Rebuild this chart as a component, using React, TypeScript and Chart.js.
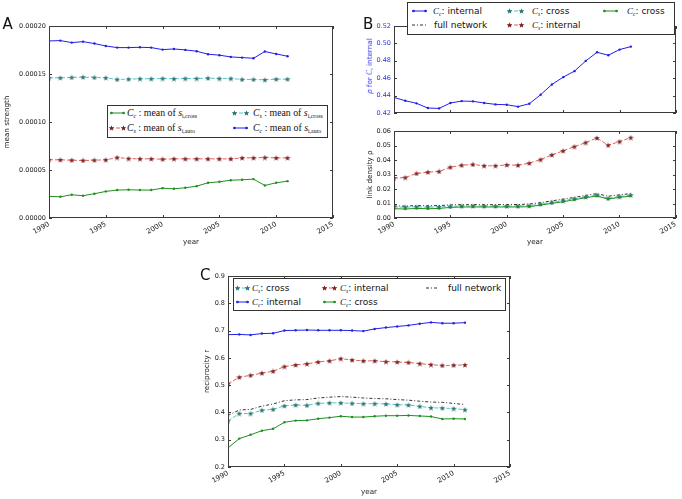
import React, { useEffect, useRef } from "react";
import { Chart, registerables } from "chart.js";
Chart.register(...registerables);

const W = 682;
const H = 499;
const SANS = "'DejaVu Sans', sans-serif";
const SERIF = "'Liberation Serif', 'DejaVu Serif', serif";

// ---------- data ----------
const years = [1990, 1991, 1992, 1993, 1994, 1995, 1996, 1997, 1998, 1999, 2000, 2001, 2002, 2003, 2004, 2005, 2006, 2007, 2008, 2009, 2010, 2011];

// Panel A: mean strength
const strengthCcAuto = [0.0001844, 0.0001848, 0.0001827, 0.0001837, 0.0001817, 0.0001792, 0.0001775, 0.0001775, 0.0001778, 0.0001775, 0.0001754, 0.0001761, 0.0001751, 0.0001737, 0.0001706, 0.0001696, 0.0001678, 0.0001671, 0.0001664, 0.0001734, 0.0001709, 0.0001685];
const strengthCsCross = [0.000146, 0.000146, 0.0001464, 0.0001467, 0.0001464, 0.000146, 0.0001443, 0.0001446, 0.000145, 0.000145, 0.0001453, 0.000145, 0.0001453, 0.0001453, 0.0001457, 0.0001453, 0.0001453, 0.0001443, 0.0001443, 0.0001439, 0.0001446, 0.0001446];
const strengthCsAuto = [0.0000606, 0.0000606, 0.0000602, 0.0000599, 0.0000602, 0.0000606, 0.000063, 0.0000619, 0.0000616, 0.0000616, 0.0000612, 0.0000616, 0.0000616, 0.0000616, 0.0000616, 0.0000616, 0.0000616, 0.0000626, 0.0000626, 0.000063, 0.0000626, 0.0000626];
const strengthCcCross = [0.0000225, 0.0000221, 0.0000242, 0.0000232, 0.0000253, 0.0000277, 0.0000291, 0.0000294, 0.0000291, 0.0000291, 0.0000311, 0.0000304, 0.0000315, 0.0000332, 0.0000367, 0.0000377, 0.0000394, 0.0000398, 0.0000405, 0.0000339, 0.0000367, 0.0000384];

// Panel B (top): link density of C_c internal
const densityCcInternal = [0.4379, 0.4341, 0.4311, 0.4257, 0.4253, 0.4315, 0.4337, 0.4334, 0.4315, 0.4299, 0.4295, 0.4273, 0.4307, 0.441, 0.4528, 0.4612, 0.4681, 0.4799, 0.4898, 0.4864, 0.4929, 0.4963];
// Panel B (bottom)
const densityCsInternal = [0.0275, 0.0279, 0.0307, 0.0316, 0.0321, 0.035, 0.0364, 0.0369, 0.036, 0.036, 0.0366, 0.0364, 0.0378, 0.0403, 0.0435, 0.0463, 0.0492, 0.052, 0.0552, 0.0502, 0.0527, 0.0554];
const densityCcCross = [0.0064, 0.0062, 0.0066, 0.0064, 0.0066, 0.0073, 0.0076, 0.0076, 0.0076, 0.0076, 0.0076, 0.0076, 0.0078, 0.0089, 0.0101, 0.0112, 0.0126, 0.014, 0.0151, 0.0131, 0.0142, 0.0151];
const densityCsCross = [0.0076, 0.0075, 0.0077, 0.0075, 0.0076, 0.008, 0.0082, 0.0083, 0.0082, 0.0082, 0.0082, 0.0082, 0.0085, 0.0096, 0.0108, 0.012, 0.0133, 0.0145, 0.0158, 0.0135, 0.0148, 0.0158];
const densityFull = [0.0083, 0.0082, 0.0085, 0.0084, 0.0086, 0.009, 0.0092, 0.0092, 0.0092, 0.0092, 0.0093, 0.0093, 0.0096, 0.0106, 0.0118, 0.013, 0.0142, 0.0156, 0.0168, 0.015, 0.016, 0.0168];

// Panel C: reciprocity
const recipCcInternal = [0.685, 0.686, 0.684, 0.689, 0.69, 0.7, 0.701, 0.702, 0.701, 0.701, 0.701, 0.7, 0.698, 0.706, 0.711, 0.715, 0.719, 0.725, 0.73, 0.727, 0.727, 0.729];
const recipCsInternal = [0.505, 0.529, 0.536, 0.544, 0.551, 0.568, 0.574, 0.578, 0.585, 0.589, 0.597, 0.592, 0.589, 0.589, 0.586, 0.585, 0.583, 0.579, 0.575, 0.572, 0.573, 0.574];
const recipCsCross = [0.369, 0.396, 0.396, 0.408, 0.411, 0.424, 0.427, 0.426, 0.433, 0.435, 0.435, 0.433, 0.432, 0.432, 0.431, 0.428, 0.427, 0.422, 0.417, 0.416, 0.414, 0.41];
const recipFull = [0.389, 0.409, 0.411, 0.423, 0.431, 0.443, 0.446, 0.447, 0.453, 0.456, 0.458, 0.456, 0.453, 0.451, 0.45, 0.447, 0.445, 0.441, 0.438, 0.437, 0.433, 0.429];
const recipCcCross = [0.27, 0.304, 0.318, 0.333, 0.34, 0.364, 0.37, 0.371, 0.377, 0.381, 0.386, 0.383, 0.383, 0.386, 0.388, 0.388, 0.389, 0.387, 0.385, 0.376, 0.377, 0.376];

const xMin = 1990;
const xMax = 2015;
const xStep = 5;

// ---------- styles ----------
type Style = { line: string; mark: string; dash?: number[]; marker: "dot" | "star" | "none" };
const ST_BLUE: Style = { line: "#2020e8", mark: "#2020e8", marker: "dot" };
const ST_GREEN: Style = { line: "#1f8f1f", mark: "#1f8f1f", marker: "dot" };
const ST_TEAL: Style = { line: "#55c6c6", mark: "#2a7272", dash: [4, 2], marker: "star" };
const ST_RED: Style = { line: "#e06060", mark: "#7a1e1e", dash: [4, 2], marker: "star" };
const ST_FULL: Style = { line: "#333333", mark: "#333333", dash: [3, 2, 1, 2], marker: "none" };

function makeStar(color: string, size: number) {
  const c = document.createElement("canvas");
  c.width = size;
  c.height = size;
  const ctx = c.getContext("2d")!;
  ctx.fillStyle = color;
  ctx.beginPath();
  const cx = size / 2, cy = size / 2 + 0.3, R = size / 2, r = R * 0.42;
  for (let i = 0; i < 10; i++) {
    const a = -Math.PI / 2 + (i * Math.PI) / 5;
    const rad = i % 2 === 0 ? R : r;
    ctx.lineTo(cx + rad * Math.cos(a), cy + rad * Math.sin(a));
  }
  ctx.closePath();
  ctx.fill();
  return c;
}

function series(vals: number[], st: Style) {
  return {
    data: years.map((x, i) => ({ x, y: vals[i] })),
    borderColor: st.line,
    borderWidth: 1,
    borderDash: st.dash || [],
    pointStyle: st.marker === "star" ? makeStar(st.mark, 6) : "circle",
    pointRadius: st.marker === "none" ? 0 : st.marker === "star" ? 3 : 1.2,
    pointBackgroundColor: st.mark,
    pointBorderColor: st.mark,
    pointBorderWidth: 0,
    tension: 0,
    fill: false,
  };
}

const framePlugin = {
  id: "mplFrame",
  afterDraw(chart: any) {
    const { ctx, chartArea } = chart;
    const l = Math.round(chartArea.left), r = Math.round(chartArea.right);
    const t = Math.round(chartArea.top), b = Math.round(chartArea.bottom);
    ctx.save();
    ctx.strokeStyle = "#3a3a3a";
    ctx.lineWidth = 1;
    ctx.strokeRect(l + 0.5, t + 0.5, r - l - 1, b - t - 1);
    const tl = 3;
    ctx.beginPath();
    const xs = chart.scales.x;
    for (const tk of xs.ticks) {
      const px = Math.round(xs.getPixelForValue(tk.value)) + 0.5;
      ctx.moveTo(px, b);
      ctx.lineTo(px, b - tl);
      ctx.moveTo(px, t);
      ctx.lineTo(px, t + tl);
    }
    const ys = chart.scales.y;
    for (const tk of ys.ticks) {
      const py = Math.round(ys.getPixelForValue(tk.value)) + 0.5;
      ctx.moveTo(l, py);
      ctx.lineTo(l + tl, py);
      ctx.moveTo(r, py);
      ctx.lineTo(r - tl, py);
    }
    ctx.stroke();
    ctx.restore();
  },
};

type Area = { l: number; t: number; r: number; b: number };
type PanelProps = {
  area: Area;
  datasets: { vals: number[]; st: Style }[];
  yMin: number;
  yMax: number;
  yStep: number;
  yDec: number;
  yColor?: string;
  yTitle?: string;
  yTitleX?: number;
  xTitleY?: number;
  showXLabels: boolean;
};

const TICK_FONT = 6.5;
const XTICK_FONT = 7;
const TITLE_FONT = 7.2;

function Panel(p: PanelProps) {
  const ref = useRef<HTMLCanvasElement>(null);
  useEffect(() => {
    const lh = TITLE_FONT * 1.2;
    const chart = new Chart(ref.current!, {
      type: "line",
      data: { datasets: p.datasets.map((d) => series(d.vals, d.st)) as any },
      options: {
        animation: false,
        responsive: false,
        devicePixelRatio: 1,
        layout: { padding: { left: 0, top: p.area.t, right: W - p.area.r, bottom: 0 } },
        plugins: { legend: { display: false }, tooltip: { enabled: false } },
        scales: {
          x: {
            type: "linear",
            min: xMin,
            max: xMax,
            afterFit: (s: any) => {
              s.height = H - p.area.b;
            },
            grid: { display: false, drawTicks: false },
            border: { display: false },
            ticks: {
              display: p.showXLabels,
              stepSize: xStep,
              autoSkip: false,
              maxRotation: 30,
              minRotation: 30,
              padding: 2,
              font: { family: SANS, size: XTICK_FONT },
              color: "#222",
              callback: (v: any) => String(v),
            },
            title: p.xTitleY
              ? {
                  display: true,
                  text: "year",
                  font: { family: SANS, size: TITLE_FONT },
                  color: "#222",
                  padding: { top: 0, bottom: H - p.xTitleY - lh / 2 },
                }
              : { display: false },
          },
          y: {
            type: "linear",
            min: p.yMin,
            max: p.yMax,
            afterFit: (s: any) => {
              s.width = p.area.l;
            },
            grid: { display: false, drawTicks: false },
            border: { display: false },
            ticks: {
              stepSize: p.yStep,
              padding: 3,
              font: { family: SANS, size: TICK_FONT },
              color: p.yColor || "#222",
              callback: (v: any) => Number(v).toFixed(p.yDec),
            },
            title: p.yTitle
              ? {
                  display: true,
                  text: p.yTitle,
                  font: { family: SANS, size: TITLE_FONT },
                  color: "#222",
                  padding: { top: (p.yTitleX || 0) - lh / 2, bottom: 0 },
                }
              : { display: false },
          },
        },
      } as any,
      plugins: [framePlugin],
    });
    return () => chart.destroy();
  }, []);
  return <canvas ref={ref} width={W} height={H} style={{ position: "absolute", left: 0, top: 0 }} />;
}

// ---------- legend helpers ----------
function starPts(cx: number, cy: number, R: number) {
  const pts: string[] = [];
  for (let i = 0; i < 10; i++) {
    const a = -Math.PI / 2 + (i * Math.PI) / 5;
    const rad = i % 2 === 0 ? R : R * 0.42;
    pts.push(`${(cx + rad * Math.cos(a)).toFixed(2)},${(cy + rad * Math.sin(a) + 0.3).toFixed(2)}`);
  }
  return pts.join(" ");
}

function Sample({ x, y, w, st }: { x: number; y: number; w: number; st: Style }) {
  const h = 8;
  const ms = st.marker === "none" ? [] : [1.5, w - 1.5];
  return (
    <svg width={w} height={h} style={{ position: "absolute", left: x, top: y - h / 2, overflow: "visible" }}>
      <line x1={0} y1={h / 2} x2={w} y2={h / 2} stroke={st.line} strokeWidth={1} strokeDasharray={st.dash ? st.dash.join(" ") : undefined} />
      {ms.map((mx, i) =>
        st.marker === "star" ? (
          <polygon key={i} points={starPts(mx, h / 2, 3)} fill={st.mark} />
        ) : (
          <circle key={i} cx={mx} cy={h / 2} r={1.3} fill={st.mark} />
        )
      )}
    </svg>
  );
}

const CSet = ({ s }: { s: string }) => (
  <>
    <span style={{ fontFamily: SERIF, fontStyle: "italic" }}>C</span>
    <span style={{ fontFamily: SERIF, fontStyle: "italic", fontSize: "0.62em", position: "relative", top: "0.3em" }}>{s}</span>
  </>
);

const Sub = ({ s }: { s: string }) => (
  <span style={{ fontSize: "0.6em", position: "relative", top: "0.35em" }}>{s}</span>
);

function Txt({ x, y, size, family, children, color }: any) {
  return (
    <div
      style={{
        position: "absolute",
        left: x,
        top: y,
        transform: "translateY(-50%)",
        fontFamily: family,
        fontSize: size,
        lineHeight: 1,
        whiteSpace: "nowrap",
        color: color || "#111",
      }}
    >
      {children}
    </div>
  );
}

function Box({ l, t, r, b }: Area) {
  return (
    <div
      style={{
        position: "absolute",
        left: l,
        top: t,
        width: r - l,
        height: b - t,
        border: "1px solid #333",
        background: "#fff",
        boxSizing: "border-box",
      }}
    />
  );
}

function Letter({ x, y, ch }: { x: number; y: number; ch: string }) {
  return (
    <div style={{ position: "absolute", left: x, top: y, fontFamily: SANS, fontSize: 15, lineHeight: "15px", color: "#111" }}>{ch}</div>
  );
}

const LEG_A_FONT = 9.8;

export default function App() {
  useEffect(() => {
    document.body.style.margin = "0";
  }, []);
  const areaA = { l: 49, t: 26, r: 333, b: 218 };
  const areaBt = { l: 394, t: 26, r: 676, b: 113 };
  const areaBb = { l: 394, t: 131, r: 676, b: 218 };
  const areaC = { l: 228, t: 276, r: 510, b: 467 };
  return (
    <div style={{ position: "absolute", left: 0, top: 0, width: W, height: H, background: "#fff", overflow: "hidden" }}>
      <Panel
        area={areaA}
        datasets={[
          { vals: strengthCcAuto, st: ST_BLUE },
          { vals: strengthCsCross, st: ST_TEAL },
          { vals: strengthCsAuto, st: ST_RED },
          { vals: strengthCcCross, st: ST_GREEN },
        ]}
        yMin={0}
        yMax={0.0002}
        yStep={0.00005}
        yDec={5}
        yTitle="mean strength"
        yTitleX={7.5}
        xTitleY={242}
        showXLabels={true}
      />
      <Panel
        area={areaBt}
        datasets={[{ vals: densityCcInternal, st: ST_BLUE }]}
        yMin={0.42}
        yMax={0.52}
        yStep={0.02}
        yDec={2}
        yColor="#3030e8"
        showXLabels={false}
      />
      <Panel
        area={areaBb}
        datasets={[
          { vals: densityCsInternal, st: ST_RED },
          { vals: densityCcCross, st: ST_GREEN },
          { vals: densityCsCross, st: ST_TEAL },
          { vals: densityFull, st: ST_FULL },
        ]}
        yMin={0}
        yMax={0.06}
        yStep={0.01}
        yDec={2}
        yTitle="link density ρ"
        yTitleX={370}
        xTitleY={242}
        showXLabels={true}
      />
      <Panel
        area={areaC}
        datasets={[
          { vals: recipCcInternal, st: ST_BLUE },
          { vals: recipCsInternal, st: ST_RED },
          { vals: recipFull, st: ST_FULL },
          { vals: recipCsCross, st: ST_TEAL },
          { vals: recipCcCross, st: ST_GREEN },
        ]}
        yMin={0.2}
        yMax={0.9}
        yStep={0.1}
        yDec={1}
        yTitle="reciprocity r"
        yTitleX={207}
        xTitleY={492}
        showXLabels={true}
      />

      {/* B top y label */}
      <div
        style={{
          position: "absolute",
          left: 370,
          top: 66,
          transform: "translate(-50%, -50%) rotate(-90deg)",
          fontFamily: SANS,
          fontSize: TITLE_FONT,
          lineHeight: 1,
          whiteSpace: "nowrap",
          color: "#3030e8",
        }}
      >
        <i>ρ</i> for <CSet s="c" /> internal
      </div>

      {/* Legend A */}
      <Box l={107} t={105} r={328} b={138} />
      <Sample x={110} y={113} w={15} st={ST_GREEN} />
      <Txt x={127} y={113} size={LEG_A_FONT} family={SERIF}>
        <CSet s="c" /> : mean of <i>s</i><Sub s="i,cross" />
      </Txt>
      <Sample x={233} y={113} w={15} st={ST_TEAL} />
      <Txt x={253} y={113} size={LEG_A_FONT} family={SERIF}>
        <CSet s="s" /> : mean of <i>s</i><Sub s="i,cross" />
      </Txt>
      <Sample x={110} y={128} w={15} st={ST_RED} />
      <Txt x={127} y={128} size={LEG_A_FONT} family={SERIF}>
        <CSet s="s" /> : mean of <i>s</i><Sub s="i,auto" />
      </Txt>
      <Sample x={233} y={128} w={15} st={ST_BLUE} />
      <Txt x={253} y={128} size={LEG_A_FONT} family={SERIF}>
        <CSet s="c" /> : mean of <i>s</i><Sub s="i,auto" />
      </Txt>

      {/* Legend B */}
      <Box l={407} t={2} r={675} b={35} />
      <Sample x={412} y={11} w={15} st={ST_BLUE} />
      <Txt x={433} y={11} size={9} family={SANS}>
        <CSet s="c" />: internal
      </Txt>
      <Sample x={412} y={25} w={15} st={ST_FULL} />
      <Txt x={434} y={25} size={9} family={SANS}>
        full network
      </Txt>
      <Sample x={508} y={11} w={15} st={ST_TEAL} />
      <Txt x={532} y={11} size={9} family={SANS}>
        <CSet s="s" />: cross
      </Txt>
      <Sample x={508} y={25} w={15} st={ST_RED} />
      <Txt x={532} y={25} size={9} family={SANS}>
        <CSet s="s" />: internal
      </Txt>
      <Sample x={603} y={11} w={15} st={ST_GREEN} />
      <Txt x={627} y={11} size={9} family={SANS}>
        <CSet s="c" />: cross
      </Txt>

      {/* Legend C */}
      <Box l={233} t={278} r={506} b={311} />
      <Sample x={236} y={288} w={13} st={ST_TEAL} />
      <Txt x={252} y={288} size={9} family={SANS}>
        <CSet s="s" />: cross
      </Txt>
      <Sample x={323} y={288} w={13} st={ST_RED} />
      <Txt x={340} y={288} size={9} family={SANS}>
        <CSet s="s" />: internal
      </Txt>
      <Sample x={426} y={288} w={13} st={ST_FULL} />
      <Txt x={448} y={288} size={9} family={SANS}>
        full network
      </Txt>
      <Sample x={236} y={302} w={13} st={ST_BLUE} />
      <Txt x={252} y={302} size={9} family={SANS}>
        <CSet s="c" />: internal
      </Txt>
      <Sample x={323} y={302} w={13} st={ST_GREEN} />
      <Txt x={340} y={302} size={9} family={SANS}>
        <CSet s="c" />: cross
      </Txt>

      <Letter x={2.5} y={16.6} ch="A" />
      <Letter x={363} y={16.6} ch="B" />
      <Letter x={200} y={268.3} ch="C" />
    </div>
  );
}
